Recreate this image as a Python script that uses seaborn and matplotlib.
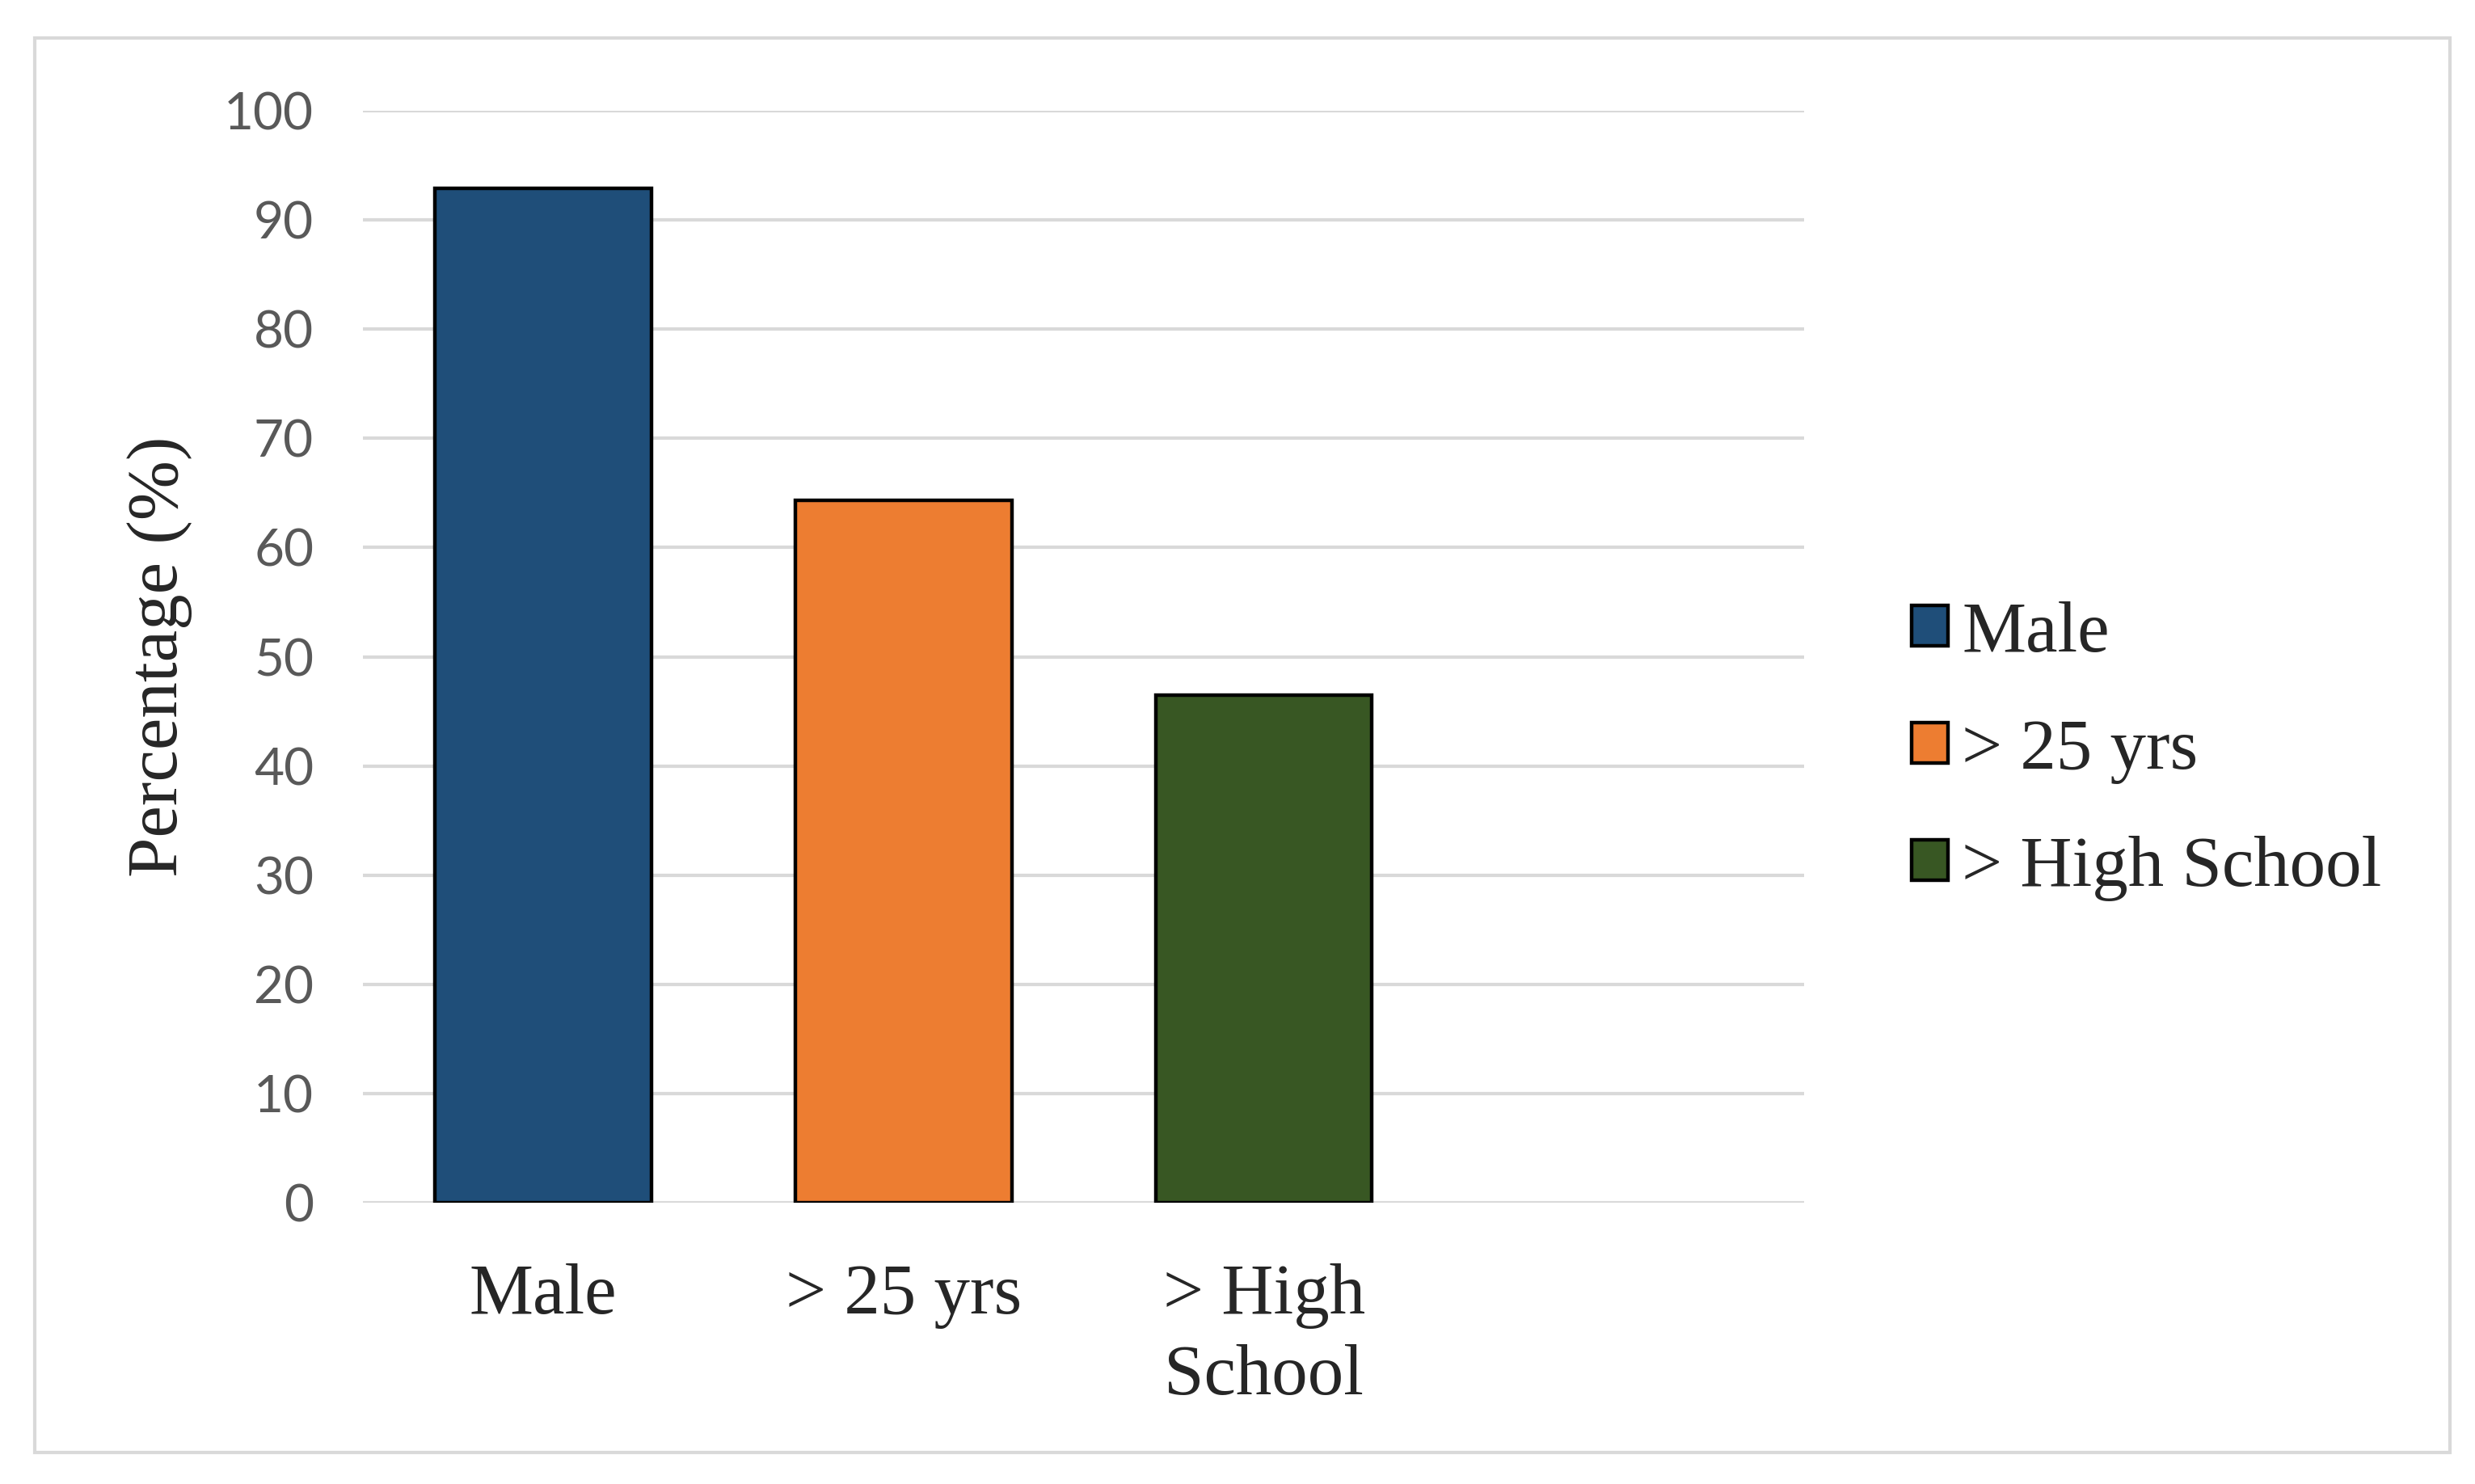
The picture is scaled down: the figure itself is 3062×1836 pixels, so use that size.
import numpy as np
import pandas as pd
import matplotlib
matplotlib.use('Agg')
import matplotlib.pyplot as plt
from matplotlib.patches import Patch, Rectangle
import seaborn as sns

# Данные
categories = ['Male', '> 25 yrs', '> High School']
tick_labels = ['Male', '> 25 yrs', '> High\nSchool']
values = [92.9, 64.3, 46.5]
colors = ['#1F4E79', '#ED7D31', '#385723']

df = pd.DataFrame({'category': categories, 'value': values})

sns.set_style('white')
plt.rcParams['font.family'] = ['Liberation Serif', 'DejaVu Serif']

fig = plt.figure(figsize=(15.31, 9.18), dpi=200)
ax = fig.add_axes([0.1467, 0.1895, 0.5823, 0.7359])

# Столбцы
sns.barplot(data=df, x='category', y='value', hue='category', palette=colors,
            saturation=1, width=0.6, edgecolor='black', linewidth=1.6,
            legend=False, ax=ax, zorder=3)

ax.set_xlim(-0.5, 3.5)
ax.set_ylim(0, 100)
ax.set_yticks(range(0, 101, 10))
ax.set_xticks(range(len(categories)))
ax.set_xticklabels(tick_labels, fontsize=32, family='Liberation Serif', linespacing=1.3)
for lbl in ax.get_yticklabels():
    lbl.set_family(['Lato', 'DejaVu Sans'])
    lbl.set_fontsize(23)
    lbl.set_color('#595959')

# Сетка
ax.grid(axis='y', color='#D9D9D9', linewidth=1.5, zorder=0)
ax.set_axisbelow(True)
for s in ax.spines.values():
    s.set_visible(False)
ax.tick_params(axis='both', length=0)
ax.tick_params(axis='y', pad=22)
ax.tick_params(axis='x', pad=27)

ax.set_xlabel('')
ax.set_ylabel('Percentage (%)', fontsize=32, labelpad=14)

# Легенда
handles = [Patch(facecolor=c, edgecolor='black', linewidth=1.6) for c in colors]
fig.legend(handles, categories, loc='center left', bbox_to_anchor=(0.7724, 0.494),
           frameon=False, fontsize=32, handlelength=0.5, handleheight=0.5,
           handletextpad=0.2, labelspacing=0.72, borderpad=0, borderaxespad=0)

# Рамка вокруг графика
fig.add_artist(Rectangle((0.014, 0.0212), 0.9758, 0.953, transform=fig.transFigure,
                         fill=False, edgecolor='#D9D9D9', linewidth=1.5))

fig.savefig('out.png', dpi=200)
